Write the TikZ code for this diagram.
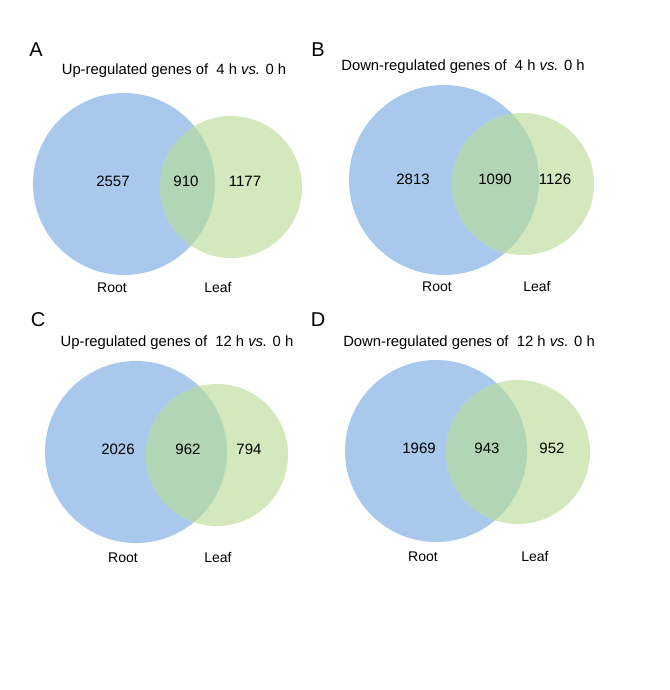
\documentclass[tikz,border=0pt]{standalone}
\usepackage{fontspec}
\setmainfont{Liberation Sans}

\definecolor{rootblue}{HTML}{A8C8EC}
\definecolor{leafgreen}{HTML}{D3E8BC}
\definecolor{bothgreen}{HTML}{B2D5B6}

% two overlapping discs: blue centre, blue radius, green centre, green radius
\newcommand{\venndiscs}[6]{%
  \fill[rootblue] (#1,#2) circle[radius=#3];
  \fill[leafgreen] (#4,#5) circle[radius=#6];
  \begin{scope}
    \clip (#1,#2) circle[radius=#3];
    \fill[bothgreen] (#4,#5) circle[radius=#6];
  \end{scope}}

\begin{document}
\begin{tikzpicture}[x=1pt,y=-1pt,
  every node/.style={inner sep=0pt,text height=0.72em,text depth=0pt},
  panel/.style={font=\fontsize{20}{20}\selectfont},
  title/.style={font=\fontsize{14.8}{15}\selectfont},
  count/.style={font=\fontsize{15}{15}\selectfont},
  tissue/.style={font=\fontsize{14}{14}\selectfont}]
\useasboundingbox (0,0) rectangle (669,690);

% A: up-regulated, 4 h
\venndiscs{124}{184}{91}{231}{187}{71}
\node[panel] (A-tag) at (36,53) {A};
\node[title] (A-title) at (174,71) {Up-regulated genes of\ \ 4 h \textit{vs.} 0 h};
\node[count] (A-root) at (113,183) {2557};
\node[count] (A-both) at (186,183) {910};
\node[count] (A-leaf) at (245,183) {1177};
\node[tissue] (A-rootname) at (112,289) {Root};
\node[tissue] (A-leafname) at (218,289) {Leaf};

% B: down-regulated, 4 h
\venndiscs{444}{180}{95}{523}{184}{71}
\node[panel] (B-tag) at (318,53) {B};
\node[title] (B-title) at (463,67) {Down-regulated genes of\ \ 4 h \textit{vs.} 0 h};
\node[count] (B-root) at (413,181) {2813};
\node[count] (B-both) at (495,181) {1090};
\node[count] (B-leaf) at (555,181) {1126};
\node[tissue] (B-rootname) at (437,288) {Root};
\node[tissue] (B-leafname) at (537,288) {Leaf};

% C: up-regulated, 12 h
\venndiscs{136}{452}{91}{217}{455}{71}
\node[panel] (C-tag) at (38,323) {C};
\node[title] (C-title) at (177,343) {Up-regulated genes of\ \ 12 h \textit{vs.} 0 h};
\node[count] (C-root) at (118,451) {2026};
\node[count] (C-both) at (188,451) {962};
\node[count] (C-leaf) at (249,451) {794};
\node[tissue] (C-rootname) at (123,559) {Root};
\node[tissue] (C-leafname) at (218,559) {Leaf};

% D: down-regulated, 12 h
\venndiscs{436}{451}{91}{518}{452}{72}
\node[panel] (D-tag) at (318,323) {D};
\node[title] (D-title) at (469,343) {Down-regulated genes of\ \ 12 h \textit{vs.} 0 h};
\node[count] (D-root) at (419,450) {1969};
\node[count] (D-both) at (487,450) {943};
\node[count] (D-leaf) at (552,450) {952};
\node[tissue] (D-rootname) at (423,558) {Root};
\node[tissue] (D-leafname) at (535,558) {Leaf};
\end{tikzpicture}
\end{document}
